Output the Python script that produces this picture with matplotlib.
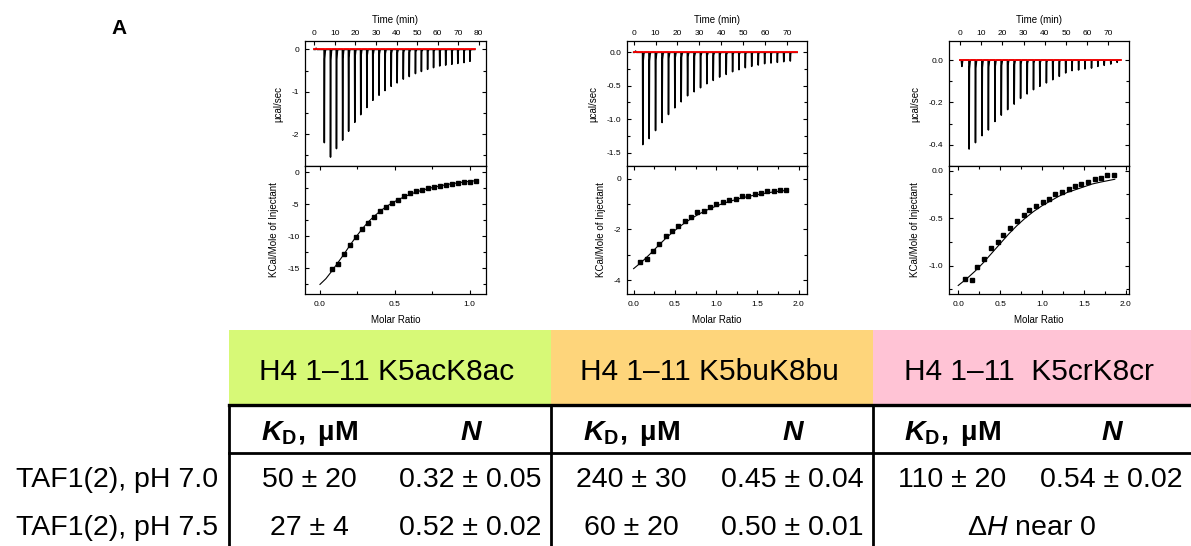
import matplotlib
matplotlib.use("Agg")
import matplotlib.pyplot as plt
from matplotlib.patches import Rectangle
from matplotlib.ticker import MultipleLocator, AutoMinorLocator, FormatStrFormatter

plt.rcParams['font.family'] = ['Liberation Sans', 'DejaVu Sans']
plt.rcParams['axes.unicode_minus'] = False
plt.rcParams['mathtext.fontset'] = 'custom'
plt.rcParams['mathtext.rm'] = 'Liberation Sans'
plt.rcParams['mathtext.it'] = 'Liberation Sans:italic'
plt.rcParams['mathtext.bf'] = 'Liberation Sans:bold'
plt.rcParams['mathtext.bfit'] = 'Liberation Sans:italic:bold'

# ---- ITC raw data (injection time in min, peak depth in ucal/sec) ----
ac_times = [4.8, 7.8, 10.7, 13.7, 16.6, 19.6, 22.5, 25.5, 28.4, 31.4, 34.3, 37.3, 40.2,
            43.2, 46.1, 49.1, 52.0, 55.0, 57.9, 60.9, 63.8, 66.8, 69.7, 72.7, 75.6]
ac_peaks = [-2.20, -2.54, -2.34, -2.14, -1.93, -1.72, -1.54, -1.37, -1.20, -1.08, -0.97, -0.87,
            -0.79, -0.70, -0.64, -0.57, -0.52, -0.47, -0.43, -0.39, -0.37, -0.35, -0.33, -0.31, -0.28]
bu_times = [4.1, 7.0, 9.9, 12.9, 15.8, 18.7, 21.6, 24.5, 27.5, 30.4, 33.3, 36.2,
            39.1, 42.1, 45.0, 47.9, 50.8, 53.7, 56.7, 59.6, 62.5, 65.4, 68.3, 71.3]
bu_peaks = [-1.38, -1.29, -1.17, -1.05, -0.93, -0.83, -0.74, -0.65, -0.59, -0.53, -0.47, -0.42,
            -0.37, -0.33, -0.29, -0.26, -0.23, -0.21, -0.19, -0.17, -0.16, -0.15, -0.14, -0.13]
cr_times = [4.2, 7.2, 10.3, 13.3, 16.4, 19.4, 22.4, 25.5, 28.5, 31.6, 34.6, 37.6,
            40.7, 43.7, 46.8, 49.8, 52.8, 55.9, 58.9, 62.0, 65.0, 68.0, 71.1, 74.1]
cr_peaks = [-0.42, -0.39, -0.357, -0.33, -0.29, -0.26, -0.234, -0.208, -0.181, -0.16, -0.14, -0.124,
            -0.108, -0.093, -0.077, -0.061, -0.05, -0.047, -0.042, -0.038, -0.030, -0.025, -0.019, -0.011]

# ---- integrated heats (kcal/mol of injectant) ----
ac_ratio = [0.08, 0.12, 0.16, 0.20, 0.24, 0.28, 0.32, 0.36, 0.40, 0.44, 0.48, 0.52, 0.56,
            0.60, 0.64, 0.68, 0.72, 0.76, 0.80, 0.84, 0.88, 0.92, 0.96, 1.00, 1.04]
ac_heat = [-15.1, -14.3, -12.8, -11.4, -10.05, -8.85, -7.87, -6.93, -6.1, -5.42, -4.85, -4.27,
           -3.70, -3.28, -2.97, -2.71, -2.45, -2.24, -2.08, -1.93, -1.77, -1.67, -1.56, -1.46, -1.35]
ac_fit_x = [0.0, 0.04, 0.08, 0.12, 0.16, 0.20, 0.24, 0.28, 0.32, 0.36, 0.40, 0.44, 0.48, 0.52,
            0.56, 0.60, 0.64, 0.68, 0.72, 0.76, 0.80, 0.84, 0.88, 0.92, 0.96, 1.00, 1.04]
ac_fit_y = [-17.5, -16.6, -15.4, -14.1, -12.8, -11.4, -10.1, -8.9, -7.8, -6.9, -6.1, -5.4, -4.8,
            -4.3, -3.85, -3.45, -3.1, -2.8, -2.55, -2.32, -2.12, -1.94, -1.78, -1.64, -1.51, -1.40, -1.30]

bu_ratio = [0.08, 0.16, 0.23, 0.31, 0.39, 0.47, 0.54, 0.62, 0.70, 0.77, 0.85, 0.93,
            1.00, 1.08, 1.16, 1.24, 1.31, 1.39, 1.47, 1.54, 1.62, 1.70, 1.77, 1.85]
bu_heat = [-3.30, -3.17, -2.86, -2.57, -2.26, -2.05, -1.85, -1.68, -1.50, -1.33, -1.28, -1.13,
           -1.01, -0.91, -0.84, -0.79, -0.70, -0.67, -0.59, -0.55, -0.50, -0.48, -0.44, -0.43]
bu_fit_x = [0.0, 0.1, 0.2, 0.3, 0.4, 0.5, 0.6, 0.7, 0.8, 0.9, 1.0, 1.1, 1.2, 1.3, 1.4, 1.5,
            1.6, 1.7, 1.85]
bu_fit_y = [-3.55, -3.28, -2.97, -2.64, -2.32, -2.04, -1.79, -1.57, -1.38, -1.22, -1.08, -0.96,
            -0.86, -0.77, -0.69, -0.63, -0.57, -0.52, -0.46]

cr_ratio = [0.08, 0.16, 0.23, 0.31, 0.39, 0.47, 0.54, 0.62, 0.70, 0.78, 0.85, 0.93,
            1.01, 1.09, 1.16, 1.24, 1.32, 1.40, 1.47, 1.55, 1.63, 1.71, 1.78, 1.86]
cr_heat = [-1.14, -1.15, -1.02, -0.93, -0.81, -0.755, -0.68, -0.60, -0.53, -0.47, -0.41, -0.37,
           -0.33, -0.30, -0.25, -0.22, -0.19, -0.165, -0.14, -0.115, -0.085, -0.075, -0.05, -0.05]
cr_fit_x = [0.0, 0.1, 0.2, 0.3, 0.4, 0.5, 0.6, 0.7, 0.8, 0.9, 1.0, 1.1, 1.2, 1.3, 1.4, 1.5,
            1.6, 1.7, 1.87]
cr_fit_y = [-1.21, -1.14, -1.06, -0.97, -0.87, -0.77, -0.67, -0.58, -0.50, -0.43, -0.37, -0.32,
            -0.27, -0.23, -0.20, -0.17, -0.14, -0.12, -0.09]

# ---- table ----
peptides = ['H4 1–11 K5acK8ac', 'H4 1–11 K5buK8bu', 'H4 1–11  K5crK8cr']
header_colors = ['#d7f977', '#fed57b', '#ffc3d5']
row_labels = ['TAF1(2), pH 7.0', 'TAF1(2), pH 7.5']
kd_vals = [['50 ± 20', '240 ± 30', '110 ± 20'],
           ['27 ± 4', '60 ± 20', None]]
n_vals = [['0.32 ± 0.05', '0.45 ± 0.04', '0.54 ± 0.02'],
          ['0.52 ± 0.02', '0.50 ± 0.01', None]]

W, H = 1191, 546
fig = plt.figure(figsize=(W / 100, H / 100), dpi=100)


def raw_trace(times, depths, t_end, first):
    t, y = [0.0, 0.6, 0.9, 1.3], [0.0, 0.0, first, 0.0]
    for ti, hi in zip(times, depths):
        t += [ti - 0.02, ti + 0.1, ti + 0.25, ti + 0.6, ti + 1.0]
        y += [0.0, hi, 0.1 * hi, 0.01 * hi, 0.0]
    t.append(t_end)
    y.append(0.0)
    return t, y


def ticks_style(ax):
    for s in ax.spines.values():
        s.set_linewidth(0.9)
    ax.tick_params(which='both', direction='in', labelsize=6, width=0.8)
    ax.tick_params(which='major', length=3)
    ax.tick_params(which='minor', length=2)


def itc_panel(left, right, times, peaks, first, t_lim, t_end, raw_ylim, raw_step, raw_fmt,
              ratio, heat, fit_x, fit_y, r_lim, r_step, h_ylim, h_step, h_fmt):
    top, mid, bot = 41, 166, 294
    ax_t = fig.add_axes([left / W, 1 - mid / H, (right - left) / W, (mid - top) / H])
    tt, yy = raw_trace(times, peaks, t_end, first)
    ax_t.plot(tt, yy, color='black', lw=1.1)
    ax_t.plot([0, t_end], [0, 0], color='red', lw=1.3)
    ax_t.set_xlim(*t_lim)
    ax_t.set_ylim(*raw_ylim)
    ticks_style(ax_t)
    ax_t.xaxis.tick_top()
    ax_t.xaxis.set_label_position('top')
    ax_t.set_xticks([v for v in range(0, 90, 10) if v <= t_lim[1]])
    ax_t.tick_params(axis='x', top=True, bottom=False, pad=3)
    ax_t.yaxis.set_major_locator(MultipleLocator(raw_step))
    ax_t.yaxis.set_minor_locator(AutoMinorLocator(2))
    ax_t.yaxis.set_major_formatter(FormatStrFormatter(raw_fmt))
    ax_t.tick_params(axis='y', which='both', left=True, right=True, pad=4)
    ax_t.set_xlabel('Time (min)', fontsize=7, labelpad=5)
    ax_t.set_ylabel('µcal/sec', fontsize=7, labelpad=6)

    ax_b = fig.add_axes([left / W, 1 - bot / H, (right - left) / W, (bot - mid) / H])
    ax_b.plot(fit_x, fit_y, color='black', lw=0.8)
    ax_b.plot(ratio, heat, 's', color='black', ms=3.5)
    ax_b.set_xlim(*r_lim)
    ax_b.set_ylim(*h_ylim)
    ticks_style(ax_b)
    ax_b.xaxis.set_major_locator(MultipleLocator(r_step))
    ax_b.xaxis.set_minor_locator(AutoMinorLocator(2))
    ax_b.xaxis.set_major_formatter(FormatStrFormatter('%.1f'))
    ax_b.yaxis.set_major_locator(MultipleLocator(h_step))
    ax_b.yaxis.set_minor_locator(AutoMinorLocator(2))
    ax_b.yaxis.set_major_formatter(FormatStrFormatter(h_fmt))
    ax_b.tick_params(axis='x', which='both', top=True, bottom=True, pad=5)
    ax_b.tick_params(axis='y', which='both', left=True, right=True, pad=4)
    ax_b.set_xlabel('Molar Ratio', fontsize=7, labelpad=5)
    ax_b.set_ylabel('KCal/Mole of Injectant', fontsize=7, labelpad=6)


itc_panel(305, 486, ac_times, ac_peaks, 0.03, (-4.5, 83.5), 78, (-2.75, 0.2), 1, '%d',
          ac_ratio, ac_heat, ac_fit_x, ac_fit_y, (-0.1, 1.11), 0.5, (-19, 1), 5, '%d')
itc_panel(627, 807, bu_times, bu_peaks, 0.02, (-3, 79), 74.5, (-1.7, 0.17), 0.5, '%.1f',
          bu_ratio, bu_heat, bu_fit_x, bu_fit_y, (-0.08, 2.1), 0.5, (-4.55, 0.5), 2, '%d')
itc_panel(949, 1129, cr_times, cr_peaks, -0.03, (-5.2, 79.8), 75.8, (-0.5, 0.09), 0.2, '%.1f',
          cr_ratio, cr_heat, cr_fit_x, cr_fit_y, (-0.11, 2.04), 0.5, (-1.3, 0.05), 0.5, '%.1f')

fig.text(119 / W, 1 - 28 / H, 'A', fontsize=15, fontweight='bold', ha='center', va='center')

# ---- table drawn in pixel coordinates ----
tab = fig.add_axes([0, 0, 1, 1])
tab.set_xlim(0, W)
tab.set_ylim(H, 0)
tab.axis('off')
edges = [229, 551, 873, 1191]
fs = 20.5
for i, (name, col) in enumerate(zip(peptides, header_colors)):
    x0, x1 = edges[i], edges[i + 1]
    tab.add_patch(Rectangle((x0, 330), x1 - x0, 75, color=col, lw=0))
    tab.text((x0 + x1) / 2 - 3, 372, name, fontsize=21.5, ha='center', va='center')
    c1 = x0 + (x1 - x0) * 0.25
    c2 = x0 + (x1 - x0) * 0.75
    tab.text(c1, 433, r'$\mathbfit{K}_{\mathbf{D}}\mathbf{,\ µM}$', fontsize=fs, ha='center', va='center')
    tab.text(c2, 433, 'N', fontsize=fs, fontweight='bold', fontstyle='italic', ha='center', va='center')
    for r, yrow in enumerate([480, 528]):
        if kd_vals[r][i] is None:
            tab.text((x0 + x1) / 2, yrow, r'Δ$\mathit{H}$ near 0', fontsize=fs, ha='center', va='center')
        else:
            tab.text(c1, yrow, kd_vals[r][i], fontsize=fs, ha='center', va='center')
            tab.text(c2, yrow, n_vals[r][i], fontsize=fs, ha='center', va='center')

for lab, yrow in zip(row_labels, [480, 528]):
    tab.text(218, yrow, lab, fontsize=fs, ha='right', va='center')

tab.plot([229, 1191], [405, 405], color='black', lw=2.4)
tab.plot([229, 1191], [453, 453], color='black', lw=2.0)
for xv in edges[:3]:
    tab.plot([xv, xv], [405, 546], color='black', lw=2.0)

fig.savefig('out.png', dpi=100)
